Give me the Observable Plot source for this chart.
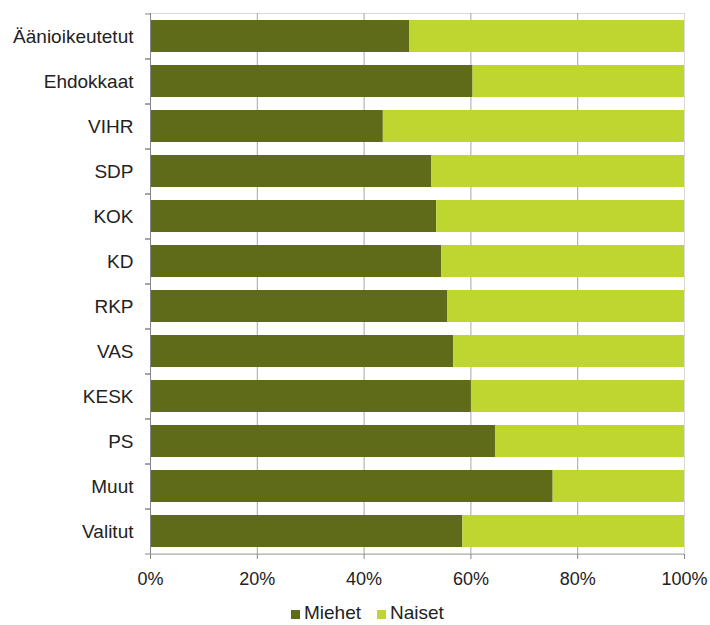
<!DOCTYPE html>
<html>
<head>
<meta charset="utf-8">
<script src="https://cdn.jsdelivr.net/npm/d3@7"></script>
<script src="https://cdn.jsdelivr.net/npm/@observablehq/plot@0.6"></script>
<style>
  body { margin: 0; background: #fff; font-family: "Liberation Sans", Arial, sans-serif; }
  #legend { margin-top: 7px; padding-left: 291px; display: flex; font-size: 19px; line-height: 20px; color: #222; }
  #legend span.sw { display: inline-block; width: 9px; height: 9px; margin-right: 4px; margin-top: 3px; }
  #legend div { display: flex; align-items: center; margin-right: 16px; }
</style>
</head>
<body>
<div id="chart"></div>
<div id="legend"></div>
<script>
const categories = ["Äänioikeutetut", "Ehdokkaat", "VIHR", "SDP", "KOK", "KD", "RKP", "VAS", "KESK", "PS", "Muut", "Valitut"];
const miehet = [48.5, 60.4, 43.6, 52.7, 53.6, 54.5, 55.7, 56.8, 60.1, 64.6, 75.4, 58.5];
const seriesNames = ["Miehet", "Naiset"];
const seriesColors = ["#5f6b18", "#bfd630"];
const xTicks = [0, 20, 40, 60, 80, 100];

const data = [];
categories.forEach((c, i) => {
  data.push({category: c, series: "Miehet", value: miehet[i]});
  data.push({category: c, series: "Naiset", value: 100 - miehet[i]});
});

const chart = Plot.plot({
  width: 710,
  height: 596,
  marginTop: 13,
  marginBottom: 42,
  marginLeft: 150,
  marginRight: 26,
  style: {fontFamily: "'Liberation Sans', Arial, sans-serif", fontSize: "18px", color: "#222", display: "block"},
  x: {domain: [0, 100], label: null},
  y: {domain: categories, paddingInner: 0.29, paddingOuter: 0.145, label: null},
  color: {domain: seriesNames, range: seriesColors},
  marks: [
    Plot.frame({stroke: "#d9d9d9"}),
    Plot.gridX(xTicks.slice(1, -1), {stroke: "#a6a6a6", strokeOpacity: 1}),
    Plot.barX(data, Plot.stackX({x: "value", y: "category", fill: "series", order: seriesNames})),
    Plot.ruleX([0], {stroke: "#868686"}),
    Plot.ruleY([0], {y: () => categories[categories.length - 1], dy: 22.5, stroke: "#a6a6a6"}),
    Plot.axisX({ticks: xTicks, tickFormat: d => d + "%", tickSize: 5, stroke: "#868686", tickPadding: 13, fill: "#222", fontSize: 18, label: null}),
    Plot.axisY({tickSize: 0, tickPadding: 17, fill: "#222", fontSize: 19, label: null}),
    Plot.axisY({tickSize: 5, text: null, dy: 22.5, stroke: "#868686", label: null}),
    Plot.axisY({tickSize: 5, text: null, dy: -22.5, stroke: "#868686", label: null})
  ]
});
document.getElementById("chart").appendChild(chart);

const legend = document.getElementById("legend");
seriesNames.forEach((n, i) => {
  const d = document.createElement("div");
  d.innerHTML = `<span class="sw" style="background:${seriesColors[i]}"></span>${n}`;
  legend.appendChild(d);
});
</script>
</body>
</html>
